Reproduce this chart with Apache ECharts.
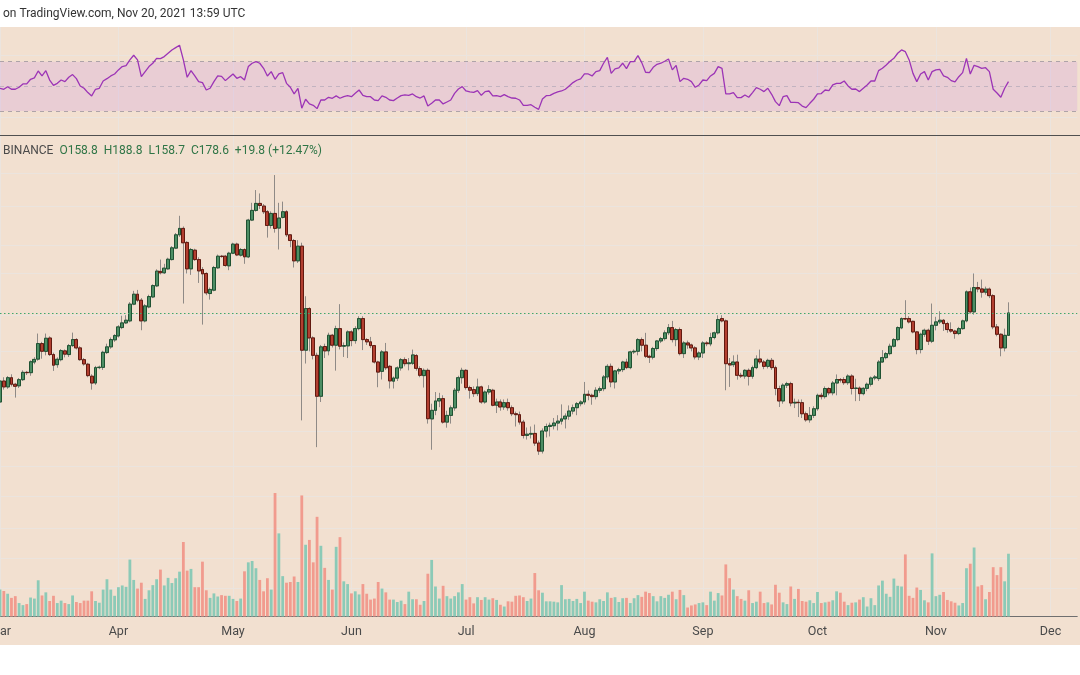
<!DOCTYPE html>
<html><head><meta charset="utf-8">
<script src="https://cdn.jsdelivr.net/npm/echarts@6/dist/echarts.min.js"></script>
<style>html,body{margin:0;padding:0;background:#fff;}#c{width:1080px;height:675px;}</style>
</head><body><div id="c"></div>
<script>
// ---- data (daily, Mar 1 2021 .. Nov 20 2021) ----
const monthNames = ['Jan','Feb','Mar','Apr','May','Jun','Jul','Aug','Sep','Oct','Nov','Dec'];
const opens = [112.0,125.0,121.2,127.2,122.9,121.9,125.9,130.8,130.6,138.1,
140.2,152.1,146.0,156.6,143.6,136.2,139.8,146.4,143.6,150.5,
155.3,148.7,139.8,136.5,128.2,123.7,134.1,134.3,145.1,149.5,
155.1,158.3,165.4,169.5,171.3,187.0,197.0,190.9,171.3,184.3,
194.2,205.8,222.0,220.4,225.0,236.2,250.8,268.9,278.1,258.4,
225.0,248.1,236.2,224.2,219.6,197.7,201.2,226.2,240.4,240.4,
228.6,244.2,256.1,241.7,249.0,239.6,290.5,305.6,317.0,312.6,
303.5,282.4,300.8,278.6,294.6,303.5,268.9,261.0,234.6,253.4,
146.9,182.7,156.7,143.0,115.4,149.8,146.4,158.9,150.8,164.5,
150.0,150.3,161.7,154.5,164.5,173.4,155.3,153.5,150.5,138.1,
131.5,145.6,135.0,124.9,126.9,133.9,139.8,136.9,137.2,142.8,
133.4,128.6,132.2,102.5,107.2,112.6,114.0,100.8,104.4,108.6,
119.1,127.2,132.2,120.8,119.5,117.0,121.2,112.0,118.0,119.1,
110.1,112.0,109.1,111.6,108.7,105.3,104.8,100.8,94.0,94.6,
95.0,90.3,86.6,96.2,98.5,98.9,100.3,101.3,102.5,104.0,
106.8,108.7,111.0,112.0,116.6,116.0,115.2,119.1,120.1,127.7,
135.0,124.4,131.8,132.7,138.1,134.1,145.6,146.1,155.3,150.8,
142.3,141.6,148.2,154.2,156.1,160.9,165.4,155.3,163.7,144.3,
152.6,151.0,148.7,141.8,144.8,152.6,151.8,157.0,160.9,173.4,
171.3,136.9,136.2,138.1,128.8,128.3,132.2,128.1,134.1,140.3,
138.1,135.0,139.3,134.1,120.2,112.6,122.3,123.3,111.4,111.8,
111.6,105.3,102.0,104.4,108.1,116.0,115.2,120.2,117.5,123.7,
126.0,126.0,123.9,128.3,120.2,120.5,117.0,120.3,122.9,127.0,
126.6,138.1,141.3,144.3,150.0,155.3,165.1,173.4,173.4,170.9,
161.7,147.4,159.7,163.1,154.0,167.4,170.4,171.9,168.9,163.7,
162.4,160.3,164.5,171.3,199.5,179.6,204.0,202.5,199.1,202.3,
195.5,166.0,159.7,148.7,158.8];
const highs = [126.5,127.5,128.3,129.5,123.8,127.0,132.2,131.8,139.3,141.6,
160.3,153.5,160.3,158.0,145.0,141.5,147.8,147.5,151.8,161.1,
156.5,150.0,141.0,137.5,129.5,135.3,135.5,146.5,152.0,157.0,
159.8,167.5,176.0,176.5,189.0,200.5,201.5,193.0,187.0,196.5,
207.5,224.5,236.2,231.0,238.5,253.5,271.5,297.1,281.0,260.0,
251.0,250.0,239.0,227.0,221.0,204.0,228.5,242.5,242.0,242.0,
246.0,258.0,258.0,251.0,250.5,292.5,318.0,340.0,334.0,316.0,
306.0,304.0,367.8,318.0,320.0,306.0,270.0,263.0,261.5,258.0,
194.9,184.0,158.0,145.0,151.0,152.0,161.0,160.0,167.0,187.0,
153.0,163.0,163.0,166.5,175.5,175.5,156.5,157.5,151.0,139.0,
147.0,152.6,136.0,128.0,135.0,141.0,141.5,141.0,147.4,144.0,
135.0,133.5,133.5,111.0,118.0,117.5,116.0,107.0,110.0,120.5,
128.5,134.0,133.0,122.0,121.5,126.6,122.0,119.0,122.3,120.0,
114.0,113.5,113.5,114.0,110.0,106.5,106.5,102.0,98.0,98.5,
99.5,91.5,97.5,100.0,100.5,103.0,104.5,110.6,105.5,110.0,
110.5,112.0,113.0,124.4,119.0,117.0,121.0,121.5,129.0,136.5,
137.0,132.5,134.0,139.0,140.5,146.5,147.5,156.5,157.0,160.9,
143.5,149.5,155.0,157.5,163.0,168.5,171.3,165.0,165.5,154.0,
154.5,152.0,150.0,146.0,154.0,154.0,160.9,162.0,176.4,176.5,
172.5,141.0,143.0,143.5,130.5,133.0,133.5,135.5,143.0,147.4,
139.5,140.5,141.0,135.5,122.0,123.5,124.5,124.5,114.0,113.5,
113.5,106.5,109.1,109.5,117.0,117.5,121.5,121.0,125.0,129.4,
127.0,127.5,129.5,129.5,126.5,121.5,121.0,124.0,128.0,129.0,
139.5,147.0,145.5,152.0,156.5,166.5,174.5,190.9,175.5,171.5,
162.5,161.0,164.5,164.5,187.6,175.0,180.2,173.0,170.5,170.0,
163.5,166.0,172.5,201.0,204.0,219.6,210.1,212.7,205.0,204.0,
197.0,168.5,160.5,164.5,188.8];
const lows = [110.5,119.5,120.0,121.5,114.6,120.5,125.0,129.0,128.5,136.5,
139.0,140.5,143.0,142.5,131.8,134.0,138.6,141.5,141.8,149.5,
147.5,139.0,135.5,127.5,119.5,122.5,133.0,132.5,144.0,148.0,
153.5,157.0,164.0,168.5,170.0,186.0,189.0,163.1,170.0,183.0,
193.0,204.5,218.5,219.0,224.0,235.0,249.5,266.0,187.6,219.6,
218.0,234.5,209.0,168.0,196.0,191.5,200.0,225.0,238.5,227.5,
223.4,243.0,240.5,240.0,231.0,238.0,289.0,303.5,308.0,300.0,
265.0,278.0,272.0,249.0,293.0,266.0,252.0,226.6,232.0,101.7,
137.0,146.0,140.0,88.4,112.0,141.0,143.0,149.0,132.0,147.5,
141.8,141.0,150.0,152.0,163.0,147.0,151.0,148.5,137.0,121.0,
126.0,132.5,120.2,120.2,125.0,132.0,135.0,132.2,136.0,132.0,
127.5,120.8,100.0,87.2,104.5,109.0,100.0,97.9,100.0,107.0,
117.5,123.3,119.5,114.0,115.0,115.5,111.0,111.0,116.5,109.5,
105.7,107.0,107.5,107.0,104.0,98.5,99.5,92.5,92.0,92.5,
89.0,84.9,85.5,93.0,93.5,97.0,96.5,99.5,97.5,102.0,
105.0,104.5,109.5,110.5,113.0,110.4,113.5,117.5,118.5,126.0,
121.0,120.2,129.5,131.0,133.0,133.0,144.0,143.0,146.0,141.0,
137.4,140.0,146.5,152.5,154.5,159.0,153.0,150.0,143.0,141.0,
148.0,146.0,140.0,139.5,141.0,150.0,150.0,155.5,159.5,170.0,
119.1,121.2,134.5,125.9,127.0,126.5,122.1,126.5,133.0,136.5,
133.0,133.5,132.5,116.0,109.1,111.0,120.5,109.5,108.5,103.5,
103.0,101.0,100.5,103.0,107.0,113.5,114.0,116.0,116.0,116.0,
124.0,122.5,122.5,116.5,112.5,112.6,116.0,118.5,121.5,125.5,
125.0,137.6,140.0,143.0,149.0,154.0,164.0,172.0,169.0,160.5,
143.8,144.5,157.5,151.0,152.5,163.0,168.5,162.5,161.0,161.0,
156.0,159.0,163.5,170.0,178.0,177.0,199.0,193.5,196.5,193.0,
164.0,158.0,142.3,146.0,158.7];
const closes = [125.0,121.2,127.2,122.9,121.6,125.9,130.8,130.6,138.3,140.0,
152.1,146.1,156.4,143.6,135.8,140.1,146.6,143.9,150.5,155.3,
148.7,139.8,136.7,128.6,123.7,134.1,134.4,145.3,149.5,155.3,
158.6,166.0,169.5,171.9,187.0,197.0,190.9,171.3,185.3,194.6,
206.1,222.3,220.4,225.8,236.6,251.2,268.9,278.1,257.9,225.0,
249.0,236.2,222.6,219.2,198.4,202.0,226.6,240.4,240.0,229.0,
244.2,256.1,242.0,249.0,239.6,290.5,305.6,317.0,313.6,303.5,
282.4,300.8,278.1,293.6,303.5,268.9,261.0,234.6,253.4,146.9,
182.7,156.7,143.0,115.4,149.5,146.4,158.9,150.8,164.5,150.0,
150.5,161.7,154.5,164.5,173.4,155.3,153.5,150.5,138.1,131.0,
145.6,134.0,125.1,127.0,133.9,139.8,136.9,137.5,143.3,133.6,
128.8,132.2,102.6,107.2,112.6,114.0,100.8,104.4,108.6,119.1,
127.2,132.2,120.8,119.1,117.0,121.2,112.0,118.0,119.5,110.1,
112.0,109.1,111.6,108.7,105.3,104.8,100.8,94.0,94.6,95.0,
90.3,86.6,96.2,98.5,99.1,100.3,101.3,102.5,104.0,106.8,
108.7,111.0,112.0,116.6,116.0,115.2,119.1,120.1,127.7,135.0,
124.4,131.8,132.7,138.1,134.1,145.6,146.1,155.3,150.8,142.3,
141.6,148.2,154.2,156.1,160.9,165.4,155.3,163.7,144.3,152.6,
151.0,148.7,141.8,144.8,152.6,152.0,157.0,160.9,172.5,171.3,
136.9,136.0,138.1,128.8,128.3,132.2,128.1,134.1,140.3,138.1,
135.0,139.3,134.1,120.2,112.6,122.3,123.3,111.4,111.8,111.6,
105.3,102.0,104.4,108.1,116.0,115.2,120.2,117.5,123.7,126.0,
125.6,123.9,128.3,120.2,120.5,117.0,120.3,122.9,127.0,127.7,
138.1,141.3,144.3,150.0,155.3,165.4,173.4,173.0,170.4,161.7,
147.4,159.7,163.1,154.0,167.4,170.4,171.9,168.9,163.7,162.4,
160.3,164.5,171.3,199.5,179.6,204.0,202.5,199.1,202.3,195.5,
166.0,159.7,148.7,158.8,178.6];
const volumes = [78,74,66,54,59,39,33,36,55,52,
105,61,70,45,60,39,46,39,36,61,
42,39,46,46,73,45,40,78,108,78,
60,85,90,86,165,106,81,98,51,76,
91,108,136,90,112,97,111,130,216,133,
138,85,85,159,76,54,67,58,62,60,
60,51,45,52,131,157,161,140,106,73,
111,78,358,241,117,98,100,116,100,351,
208,222,157,289,205,141,106,78,202,230,
102,94,67,73,64,94,66,49,52,100,
81,70,49,49,42,46,36,72,50,50,
34,45,124,164,87,52,89,59,52,59,
70,94,49,56,38,56,48,56,49,53,
48,34,29,44,43,60,61,56,45,52,
126,76,69,44,44,43,41,91,50,51,
45,51,39,72,46,43,41,50,45,70,
54,56,42,53,54,39,53,62,57,72,
68,59,44,59,54,63,72,50,77,62,
26,32,35,39,41,33,72,46,68,61,
151,111,78,59,51,46,76,39,43,72,
39,41,35,92,69,41,36,87,51,80,
45,43,47,39,71,39,41,43,47,73,
69,43,33,40,41,49,56,29,53,33,
90,104,66,57,110,89,87,180,60,54,
84,77,47,41,183,59,63,71,48,44,
40,32,39,140,153,200,87,91,50,71,
143,120,143,102,182];
const rsi = [48.4,47.6,49.7,47.6,47.6,49.2,51.9,51.9,55.7,56.8,
62.4,58.4,62.7,55.1,50.8,52.4,55.1,53.8,57.3,59.5,
56.2,50.3,48.4,44.9,42.2,47.6,48.4,54.3,56.2,58.4,
60.0,63.3,66.0,66.8,71.4,75.2,71.4,57.8,61.9,66.0,
68.7,72.7,72.4,74.1,76.8,79.5,81.4,83.3,71.4,57.3,
62.7,58.4,53.8,53.0,47.0,48.4,53.8,58.4,58.1,54.6,
57.3,60.0,56.5,57.8,55.1,66.0,68.7,70.0,68.7,64.6,
58.4,61.9,55.7,60.0,61.1,52.4,49.2,43.8,48.4,32.2,
39.5,35.7,34.6,31.9,38.9,38.9,41.1,40.3,42.2,40.3,
41.6,42.4,41.6,44.3,47.0,42.7,41.6,41.6,38.9,38.4,
42.2,41.1,38.9,38.4,40.5,42.4,43.0,42.7,43.8,41.6,
40.5,42.2,34.0,36.2,38.9,38.9,35.7,37.3,38.9,44.3,
47.8,49.7,46.2,45.4,45.1,46.5,42.7,45.7,46.2,42.2,
42.4,41.6,43.2,41.6,40.5,40.3,38.9,34.6,34.6,35.1,
33.0,31.3,39.7,42.4,42.7,44.3,45.4,46.2,47.6,50.3,
53.0,54.9,56.0,60.0,60.0,58.4,61.9,62.7,68.7,73.5,
60.5,64.1,64.9,68.7,64.3,70.0,70.0,74.9,69.2,61.4,
61.1,65.4,67.8,68.7,70.3,72.2,63.3,67.0,53.8,56.5,
55.7,53.8,49.2,51.1,55.1,54.6,58.4,60.5,66.0,64.6,
43.8,43.8,44.9,40.8,40.8,43.0,41.1,44.9,48.9,47.6,
45.7,48.4,43.5,37.6,34.3,41.6,42.4,37.0,37.0,36.7,
34.0,32.7,36.2,39.5,43.8,44.1,47.0,46.5,51.1,52.4,
52.4,54.3,50.3,47.6,47.8,45.7,48.4,51.1,54.3,54.3,
62.7,64.6,67.3,70.3,72.7,76.8,79.5,78.1,71.4,60.5,
53.8,60.0,61.9,55.1,61.9,63.3,63.8,58.4,57.3,54.6,
53.5,57.8,61.1,72.7,60.0,67.0,66.0,64.6,65.1,61.9,
47.6,44.6,41.1,48.4,53.8];
const priceGridValues = [42.1, 49.3, 57.7, 68.3, 80, 96, 116, 146, 176.5, 220, 254, 313, 371];
const rsiBandLevels = [30, 50, 70];
const rsiGridValues = [25, 75];
const startYear = 2021, startMonth = 2, startDay = 1; // Mar 1, 2021
const trailingDays = 18; // empty axis space through Dec 8
const symbolName = 'BINANCE';
const stampText = 'on TradingView.com, Nov 20, 2021 13:59 UTC';

// ---- categories (calendar days) ----
const categories = [];
const t0 = Date.UTC(startYear, startMonth, startDay);
for (let i = 0; i < opens.length + trailingDays; i++) {
  categories.push(new Date(t0 + i * 86400000).toISOString().slice(0, 10));
}
const isMonthStart = (v) => typeof v === 'string' && v.slice(8) === '01';

// ---- styling ----
const FONT = 'Roboto';
const bg = '#f2e0d0';
const gridColor = '#ebe4de';
const step = 3.82;
const plotW = step * (categories.length - 1);
const upBody = '#4d8e64', upBorder = '#1f5232';
const dnBody = '#b23f30', dnBorder = '#62190f';
const wickColor = '#8f8a86';
const volUp = '#8ccab7', volDn = '#f19b8e';

const last = closes.length - 1;
const chg = closes[last] - opens[last];
const pct = chg / opens[last] * 100;
const legendText = '{a|' + symbolName + '}  {b|O' + opens[last].toFixed(1) + '}  {b|H' + highs[last].toFixed(1) +
  '}  {b|L' + lows[last].toFixed(1) + '}  {b|C' + closes[last].toFixed(1) + '}  {b|' + (chg >= 0 ? '+' : '') +
  chg.toFixed(1) + ' (' + (pct >= 0 ? '+' : '') + pct.toFixed(2) + '%)}';

const candleData = opens.map((o, i) => [o, closes[i], lows[i], highs[i]]);
const bodyData = opens.map((o, i) => [o, closes[i], Math.min(o, closes[i]), Math.max(o, closes[i])]);
const volData = volumes.map((v, i) => ({ value: v, itemStyle: { color: closes[i] >= opens[i] ? volUp : volDn } }));

function xAxis(gridIndex, withSplit, withLabels) {
  return {
    type: 'category', gridIndex, data: categories, boundaryGap: false,
    axisLine: withLabels ? { show: true, lineStyle: { color: '#6f6f6f', width: 1 } } : { show: false },
    axisTick: { show: false },
    axisLabel: withLabels ? {
      show: true, interval: (i, v) => isMonthStart(v), formatter: (v) => monthNames[+v.slice(5, 7) - 1],
      color: '#4a4a4a', fontSize: 12.5, fontFamily: FONT, margin: 9
    } : { show: false },
    splitLine: { show: withSplit, interval: (i, v) => isMonthStart(v), lineStyle: { color: gridColor, width: 1 } }
  };
}

const gridCommon = { left: 0, width: plotW, containLabel: false, outerBoundsMode: 'none' };

const option = {
  animation: false,
  backgroundColor: '#ffffff',
  grid: [
    Object.assign({ top: 27, height: 108 }, gridCommon),
    Object.assign({ top: 136, height: 480.5 }, gridCommon),
    Object.assign({ top: 136, height: 480.5 }, gridCommon)
  ],
  xAxis: [xAxis(0, true, false), xAxis(1, true, true), xAxis(2, false, false)],
  yAxis: [
    { type: 'value', gridIndex: 0, min: 10.5, max: 98.1, show: false, splitLine: { show: false } },
    { type: 'log', gridIndex: 1, min: 36.4, max: 451.3, logBase: 10,
      axisLine: { show: false }, axisLabel: { show: false },
      axisTick: { show: false, customValues: priceGridValues },
      splitLine: { show: true, lineStyle: { color: gridColor, width: 1 } } },
    { type: 'value', gridIndex: 2, min: 0, max: 1393, show: false, splitLine: { show: false } }
  ],
  graphic: [
    { type: 'rect', z: -10, silent: true, shape: { x: 0, y: 27, width: 1080, height: 618 }, style: { fill: bg } },
    { type: 'line', z: 50, silent: true, shape: { x1: 0, y1: 135.5, x2: 1080, y2: 135.5 }, style: { stroke: '#505050', lineWidth: 1 } },
    { type: 'text', z: 50, x: 3, y: 14, style: { text: stampText, fill: '#333333', fontSize: 12, fontFamily: FONT, verticalAlign: 'middle', align: 'left' } },
    { type: 'text', z: 50, x: 3, y: 151, style: { text: legendText, fontSize: 12, fontFamily: FONT, verticalAlign: 'middle', align: 'left',
      rich: { a: { fill: '#4a4a4a', fontSize: 12, fontFamily: FONT }, b: { fill: '#2f7546', fontSize: 12, fontFamily: FONT } } } }
  ],
  series: [
    {
      type: 'line', xAxisIndex: 0, yAxisIndex: 0, data: rsi, showSymbol: false, silent: true, z: 5,
      lineStyle: { color: '#9c34b6', width: 1.3 },
      markArea: { silent: true, itemStyle: { color: 'rgba(190,110,230,0.17)' }, data: [[{ yAxis: rsiBandLevels[0] }, { yAxis: rsiBandLevels[2] }]] },
      markLine: {
        silent: true, symbol: 'none', label: { show: false },
        data: rsiBandLevels.map((v) => ({ yAxis: v, lineStyle: { color: v === 50 ? '#c2b3c0' : '#aea3a8', type: [4, 4], width: 1 } }))
          .concat(rsiGridValues.map((v) => ({ yAxis: v, lineStyle: { color: gridColor, type: 'solid', width: 1 } })))
      }
    },
    {
      type: 'bar', xAxisIndex: 2, yAxisIndex: 2, data: volData, barWidth: 2.8, silent: true, z: 1
    },
    {
      type: 'candlestick', xAxisIndex: 1, yAxisIndex: 1, data: candleData, barWidth: 3.4, silent: true, z: 3,
      itemStyle: { color: 'rgba(0,0,0,0)', color0: 'rgba(0,0,0,0)', borderColor: wickColor, borderColor0: wickColor, borderWidth: 1 }
    },
    {
      type: 'candlestick', xAxisIndex: 1, yAxisIndex: 1, data: bodyData, barWidth: 3.4, silent: true, z: 4,
      itemStyle: { color: upBody, color0: dnBody, borderColor: upBorder, borderColor0: dnBorder, borderWidth: 1 },
      markLine: {
        silent: true, symbol: 'none', label: { show: false },
        data: [{ yAxis: closes[last] }],
        lineStyle: { color: '#3fa66c', type: [1.5, 2.5], width: 1.2 }
      }
    }
  ]
};

const chart = echarts.init(document.getElementById('c'), null, { renderer: 'canvas' });
chart.setOption(option);
</script>
</body></html>
